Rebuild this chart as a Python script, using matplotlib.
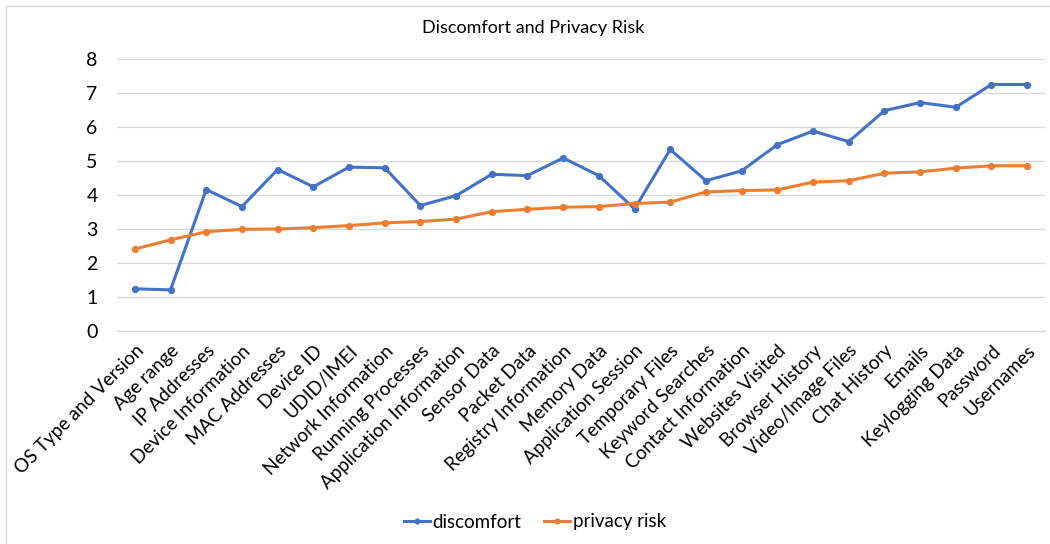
import matplotlib.pyplot as plt
from matplotlib.patches import Rectangle

plt.rcParams["font.family"] = ["Lato", "DejaVu Sans"]

categories = [
    "OS Type and Version", "Age range", "IP Addresses", "Device Information",
    "MAC Addresses", "Device ID", "UDID/IMEI", "Network Information",
    "Running Processes", "Application Information", "Sensor Data", "Packet Data",
    "Registry Information", "Memory Data", "Application Session", "Temporary Files",
    "Keyword Searches", "Contact Information", "Websites Visited", "Browser History",
    "Video/Image Files", "Chat History", "Emails", "Keylogging Data", "Password",
    "Usernames",
]
discomfort = [
    1.24, 1.21, 4.16, 3.66, 4.75, 4.24, 4.82, 4.80, 3.69, 3.98, 4.61, 4.57, 5.09,
    4.57, 3.59, 5.34, 4.42, 4.71, 5.48, 5.88, 5.57, 6.48, 6.72, 6.58, 7.25, 7.25,
]
privacy_risk = [
    2.41, 2.68, 2.92, 2.99, 3.00, 3.04, 3.10, 3.18, 3.22, 3.29, 3.51, 3.58, 3.64,
    3.66, 3.75, 3.79, 4.09, 4.13, 4.15, 4.38, 4.42, 4.64, 4.68, 4.79, 4.86, 4.86,
]
y_ticks = [0, 1, 2, 3, 4, 5, 6, 7, 8]

W, H = 1050, 544
fig = plt.figure(figsize=(W / 100, H / 100), dpi=100)
ax = fig.add_axes([117 / W, 1 - 331 / H, 928 / W, 272 / H])

# chart frame, only the left and top edges fall inside the canvas
fig.patches.append(Rectangle((6 / W, -0.1), 1.2, 1 - 6 / H + 0.1, transform=fig.transFigure,
                             fill=False, edgecolor="#d9d9d9", linewidth=1.0))

x = list(range(len(categories)))
ax.plot(x, discomfort, color="#4472C4", linewidth=2.2, marker="o", markersize=4.2,
        label="discomfort", zorder=3)
ax.plot(x, privacy_risk, color="#ED7D31", linewidth=2.2, marker="o", markersize=4.2,
        label="privacy risk", zorder=3)

ax.set_xlim(-0.5, len(categories) - 0.5)
ax.set_ylim(0, 8)
ax.set_yticks(y_ticks)
ax.set_yticklabels([str(t) for t in y_ticks], fontsize=14)
ax.grid(axis="y", color="#d9d9d9", linewidth=1.0)
ax.set_axisbelow(True)
for side in ("top", "right", "left"):
    ax.spines[side].set_visible(False)
ax.spines["bottom"].set_color("#d9d9d9")
ax.spines["bottom"].set_linewidth(1.0)
ax.tick_params(axis="both", length=0, colors="black")
ax.tick_params(axis="y", pad=14)

ax.set_xticks(x)
ax.set_xticklabels(categories, rotation=45, ha="right", rotation_mode="anchor",
                   fontsize=13.5)
ax.tick_params(axis="x", pad=8)

fig.text(533 / W, 1 - 28 / H, "Discomfort and Privacy Risk", ha="center", va="center",
         fontsize=13)

fig.legend(loc="center", bbox_to_anchor=(535 / W, 1 - 522 / H), ncol=2, frameon=False,
           fontsize=13.5, handlelength=1.4, handletextpad=0.15, columnspacing=1.2,
           markerscale=0.8)

fig.savefig("out.png", dpi=100)
